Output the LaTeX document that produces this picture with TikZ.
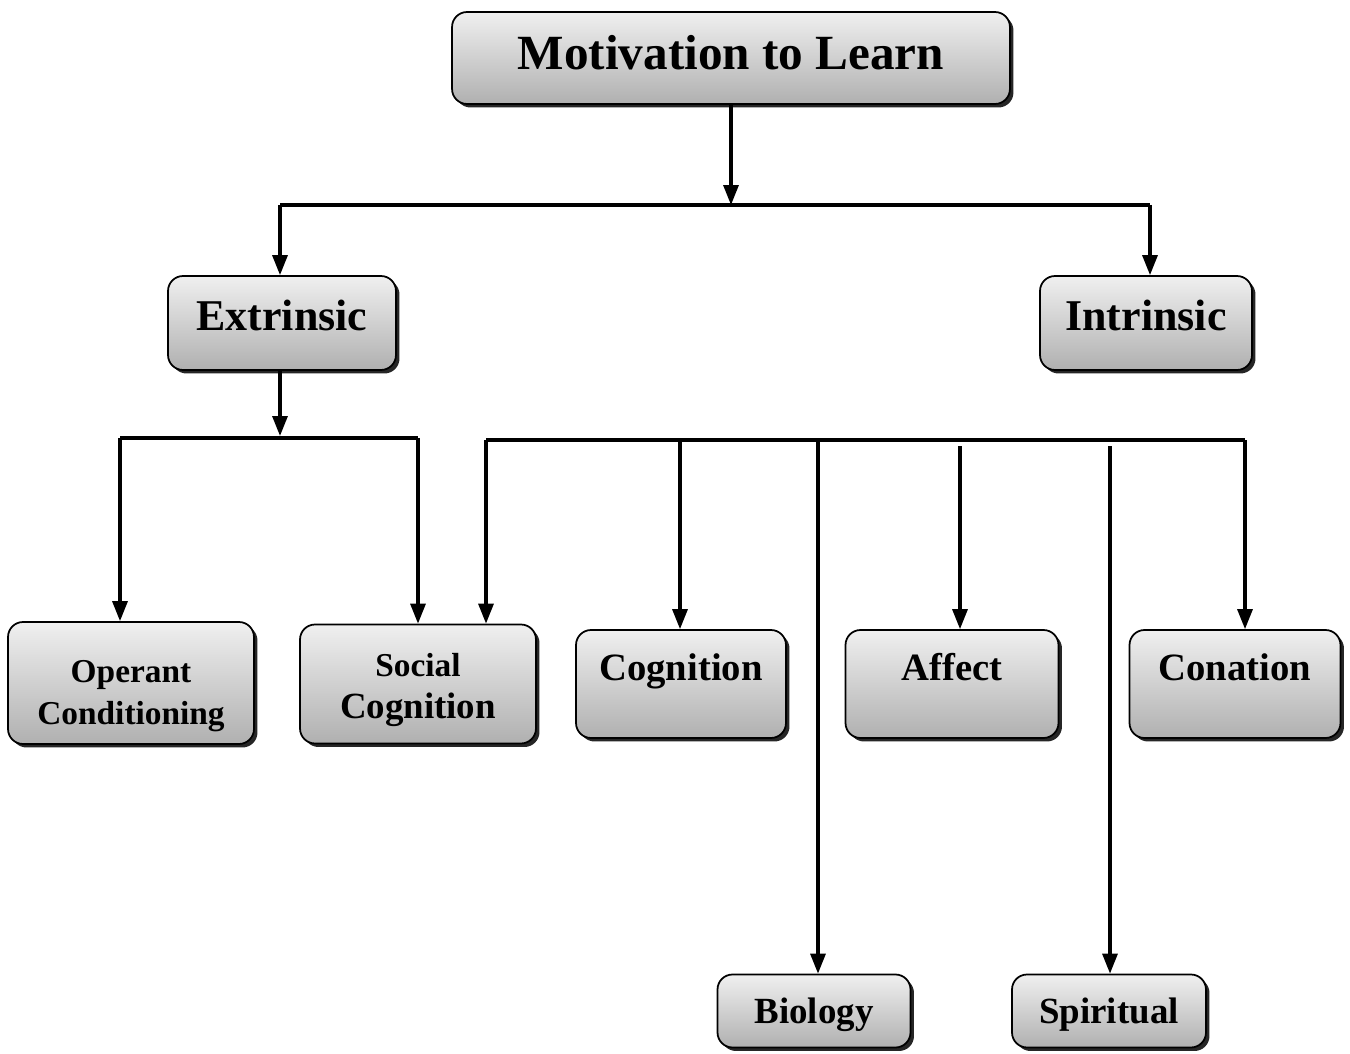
\documentclass[tikz,border=0pt]{standalone}
\usepackage{fontspec}
\setmainfont{Liberation Serif}
\usepackage{tikz}
\usetikzlibrary{positioning,arrows.meta,shadows}
\newcommand{\padtop}[1]{\rule{0pt}{#1}}
\tikzset{
    block/.style = {
        draw,
        shape=rectangle,
        rounded corners=0.3cm,
        inner sep=0pt,
        align=center,
        line width=1pt,
        top color=gray!12,
        bottom color=gray!62,
        drop shadow={shadow xshift=0.07cm, shadow yshift=-0.07cm, fill=black, opacity=0.85},
        font=\bfseries
    },
    bus/.style = {
        line width=1.8pt
    },
    >={Triangle[length=0.4cm,width=0.3cm]},
}

\begin{document}
\begin{tikzpicture}[x=0.02cm,y=-0.02cm]
            \useasboundingbox (0,0) rectangle (1350,1054);

            \node[block, minimum width=11.16cm, minimum height=1.84cm, text height=0.75cm, text depth=0.27cm, font=\bfseries\fontsize{28}{30}\selectfont] (motiv) at (731,58) {Motivation to Learn};
            \node[block, minimum width=4.56cm, minimum height=1.88cm, text height=0.65cm, text depth=0.33cm, font=\bfseries\fontsize{25}{27}\selectfont] (extr) at (282,323) {Extrinsic};
            \node[block, minimum width=4.24cm, minimum height=1.88cm, text height=0.65cm, text depth=0.33cm, font=\bfseries\fontsize{25}{27}\selectfont] (intr) at (1146,323) {Intrinsic};

            \node[block, minimum width=4.92cm, minimum height=2.44cm, font=\bfseries\fontsize{19}{24}\selectfont] (oper) at (131,683) {\padtop{0.98cm}Operant\\Conditioning};
            \node[block, minimum width=4.72cm, minimum height=2.38cm, font=\bfseries\fontsize{21}{24}\selectfont] (social) at (418,684) {{\fontsize{19}{24}\selectfont\padtop{0.7cm}Social}\\Cognition};
            \node[block, minimum width=4.2cm, minimum height=2.16cm, text height=0.55cm, text depth=0.71cm, font=\bfseries\fontsize{22}{24}\selectfont] (cogn) at (681,684) {Cognition};
            \node[block, minimum width=4.26cm, minimum height=2.16cm, text height=0.55cm, text depth=0.71cm, font=\bfseries\fontsize{22}{24}\selectfont] (affect) at (952,684) {Affect};
            \node[block, minimum width=4.22cm, minimum height=2.16cm, text height=0.55cm, text depth=0.71cm, font=\bfseries\fontsize{22}{24}\selectfont] (conat) at (1235,684) {Conation};
            \node[block, minimum width=3.86cm, minimum height=1.46cm, text height=0.64cm, text depth=0.16cm, font=\bfseries\fontsize{21}{23}\selectfont] (bio) at (814,1011) {Biology};
            \node[block, minimum width=3.88cm, minimum height=1.46cm, text height=0.64cm, text depth=0.16cm, font=\bfseries\fontsize{21}{23}\selectfont] (spirit) at (1109,1011) {Spiritual};

            % first split
            \coordinate (top) at (731,205);
            \coordinate (topw) at (280,205);
            \coordinate (tope) at (1150,205);
            \path[draw, bus, ->] (motiv) -- (top);
            \path[draw, bus] (topw) -- (tope);
            \path[draw, bus, ->] (topw) -- (topw |- extr.north);
            \path[draw, bus, ->] (tope) -- (tope |- intr.north);

            % extrinsic split
            \coordinate (ext) at (280,436);
            \coordinate (extw) at (120,438);
            \coordinate (exte) at (418,438);
            \path[draw, bus, ->] (extr.south -| ext) -- (ext);
            \path[draw, bus] (extw) -- (exte);
            \path[draw, bus, ->] (extw) -- (extw |- oper.north);
            \path[draw, bus, ->] (exte) -- (exte |- social.north);

            % intrinsic split
            \coordinate (intw) at (486,440);
            \coordinate (inte) at (1245,440);
            \coordinate (cogt) at (680,440);
            \coordinate (biot) at (818,440);
            \coordinate (afft) at (960,446);
            \coordinate (spit) at (1110,446);
            \path[draw, bus] (intw) -- (inte);
            \path[draw, bus, ->] (intw) -- (intw |- social.north);
            \path[draw, bus, ->] (cogt) -- (cogt |- cogn.north);
            \path[draw, bus, ->] (biot) -- (biot |- bio.north);
            \path[draw, bus, ->] (afft) -- (afft |- affect.north);
            \path[draw, bus, ->] (spit) -- (spit |- spirit.north);
            \path[draw, bus, ->] (inte) -- (inte |- conat.north);
        \end{tikzpicture}
\end{document}
